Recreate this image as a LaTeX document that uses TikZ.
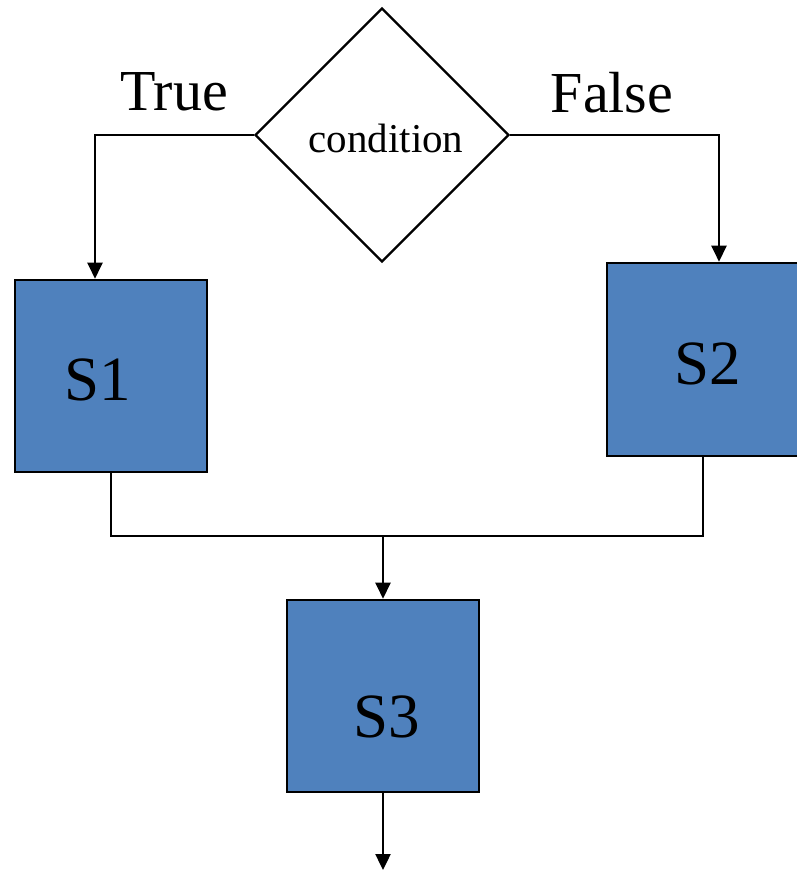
\documentclass[tikz,border=0pt]{standalone}
\usepackage{fontspec}
\setmainfont{Liberation Serif}
\usetikzlibrary{shapes.geometric,arrows.meta}
\definecolor{boxblue}{HTML}{4F81BD}
\tikzset{
  stepbox/.style={rectangle, draw=black, fill=boxblue, line width=2.6pt,
                  minimum width=192pt, minimum height=192pt, inner sep=0pt},
  decision/.style={diamond, draw=black, line width=2.2pt, fill=white,
                   minimum width=254pt, minimum height=254pt, inner sep=0pt},
  boxtext/.style={anchor=base, inner sep=0pt, font=\fontsize{63}{63}\selectfont},
  branchtext/.style={anchor=base, inner sep=0pt, font=\fontsize{58}{58}\selectfont},
  flow/.style={line width=2.4pt, -{Triangle[length=16pt,width=15pt]}},
  joint/.style={line width=2.4pt}
}
\begin{document}
\begin{tikzpicture}[x=1pt,y=-1pt]
  \useasboundingbox (0,0) rectangle (796,872);
  \fill[white] (0,0) rectangle (796,872);

  % decision and the three statement blocks
  \node[decision] (cond) at (382,135) {};
  \node[anchor=base, inner sep=0pt, font=\fontsize{41}{41}\selectfont] (condtext) at (386,152) {condition};
  \node[stepbox] (s1) at (111,376) {};
  \node[stepbox, minimum height=193pt] (s2) at (703,359.5) {};
  \node[stepbox] (s3) at (383,696) {};

  \node[boxtext] (s1text) at (98,400) {S1};
  \node[boxtext] (s2text) at (708,384) {S2};
  \node[boxtext] (s3text) at (387,737) {S3};

  % branch labels
  \node[branchtext] (truetext) at (174,111) {True};
  \node[branchtext] (falsetext) at (612,113) {False};

  % branches
  \draw[flow] (cond.west) -| ([xshift=-16pt]s1.north);
  \draw[flow] (cond.east) -| ([xshift=16pt]s2.north);

  % merge
  \coordinate (merge) at (383,536);
  \coordinate (out) at (383,870);
  \draw[joint] (s1.south) |- (merge);
  \draw[joint] (s2.south) |- (merge);
  \draw[flow] (merge) -- (s3.north);
  \draw[flow] (s3.south) -- (out);
\end{tikzpicture}
\end{document}
